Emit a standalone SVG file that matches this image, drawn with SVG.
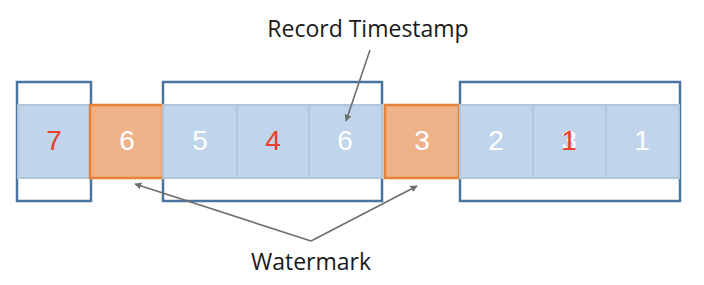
<svg xmlns="http://www.w3.org/2000/svg" width="704" height="285" viewBox="0 0 704 285">
<style>
.band{fill:#c0d5eb;stroke:#b3c5d8;stroke-width:2}
.wm{fill:#edb287;stroke:#e8823a;stroke-width:2.5}
.win{fill:none;stroke:#4a74a0;stroke-width:2.5}
.num{font-family:"Liberation Sans",Arial,sans-serif;font-size:28px;text-anchor:middle;fill:#ffffff}
.red{fill:#e8402c}
.lbl{font-family:"Open Sans","Liberation Sans",sans-serif;font-size:23px;text-anchor:middle;fill:#1a1a1a}
.arr{stroke:#6e6e6e;stroke-width:1.6;fill:none;marker-end:url(#ah)}
</style>
<defs>
<marker id="ah" viewBox="0 0 10 10" refX="9" refY="5" markerWidth="7" markerHeight="7" orient="auto" markerUnits="userSpaceOnUse">
<path d="M0,0 L10,5 L0,10 z" fill="#6e6e6e"/>
</marker>
</defs>
<g id="windows">
<rect class="win" x="17" y="82" width="74" height="119"/>
<rect class="win" x="163" y="82" width="219" height="119"/>
<rect class="win" x="460" y="82" width="220" height="119"/>
</g>
<g id="cell-7"><rect class="band" x="18" y="105" width="72" height="73"/><text class="num red" x="54" y="150">7</text></g>
<g id="wm-6"><rect class="wm" x="90" y="105" width="73" height="73"/><text class="num" x="127" y="150">6</text></g>
<g id="cell-5"><rect class="band" x="163" y="105" width="74" height="73"/><text class="num" x="200" y="150">5</text></g>
<g id="cell-4"><rect class="band" x="237" y="105" width="72" height="73"/><text class="num red" x="273" y="150">4</text></g>
<g id="cell-6"><rect class="band" x="309" y="105" width="73" height="73"/><text class="num" x="345" y="150">6</text></g>
<g id="wm-3"><rect class="wm" x="385" y="105" width="74" height="73"/><text class="num" x="422" y="150">3</text></g>
<g id="cell-2"><rect class="band" x="460" y="105" width="73" height="73"/><text class="num" x="496" y="150">2</text></g>
<g id="cell-3-1"><rect class="band" x="533" y="105" width="73" height="73"/><text class="num" x="569" y="150">3</text><text class="num red" x="569" y="150">1</text></g>
<g id="cell-1"><rect class="band" x="606" y="105" width="73" height="73"/><text class="num" x="642" y="150">1</text></g>
<g id="connectors">
<line class="arr" x1="370" y1="50" x2="346" y2="121"/>
<polyline class="arr" points="311,241 135,184"/>
<polyline class="arr" points="311,241 417,186"/>
</g>
<g id="labels">
<text class="lbl" x="368" y="37">Record Timestamp</text>
<text class="lbl" x="311" y="270">Watermark</text>
</g>
</svg>
